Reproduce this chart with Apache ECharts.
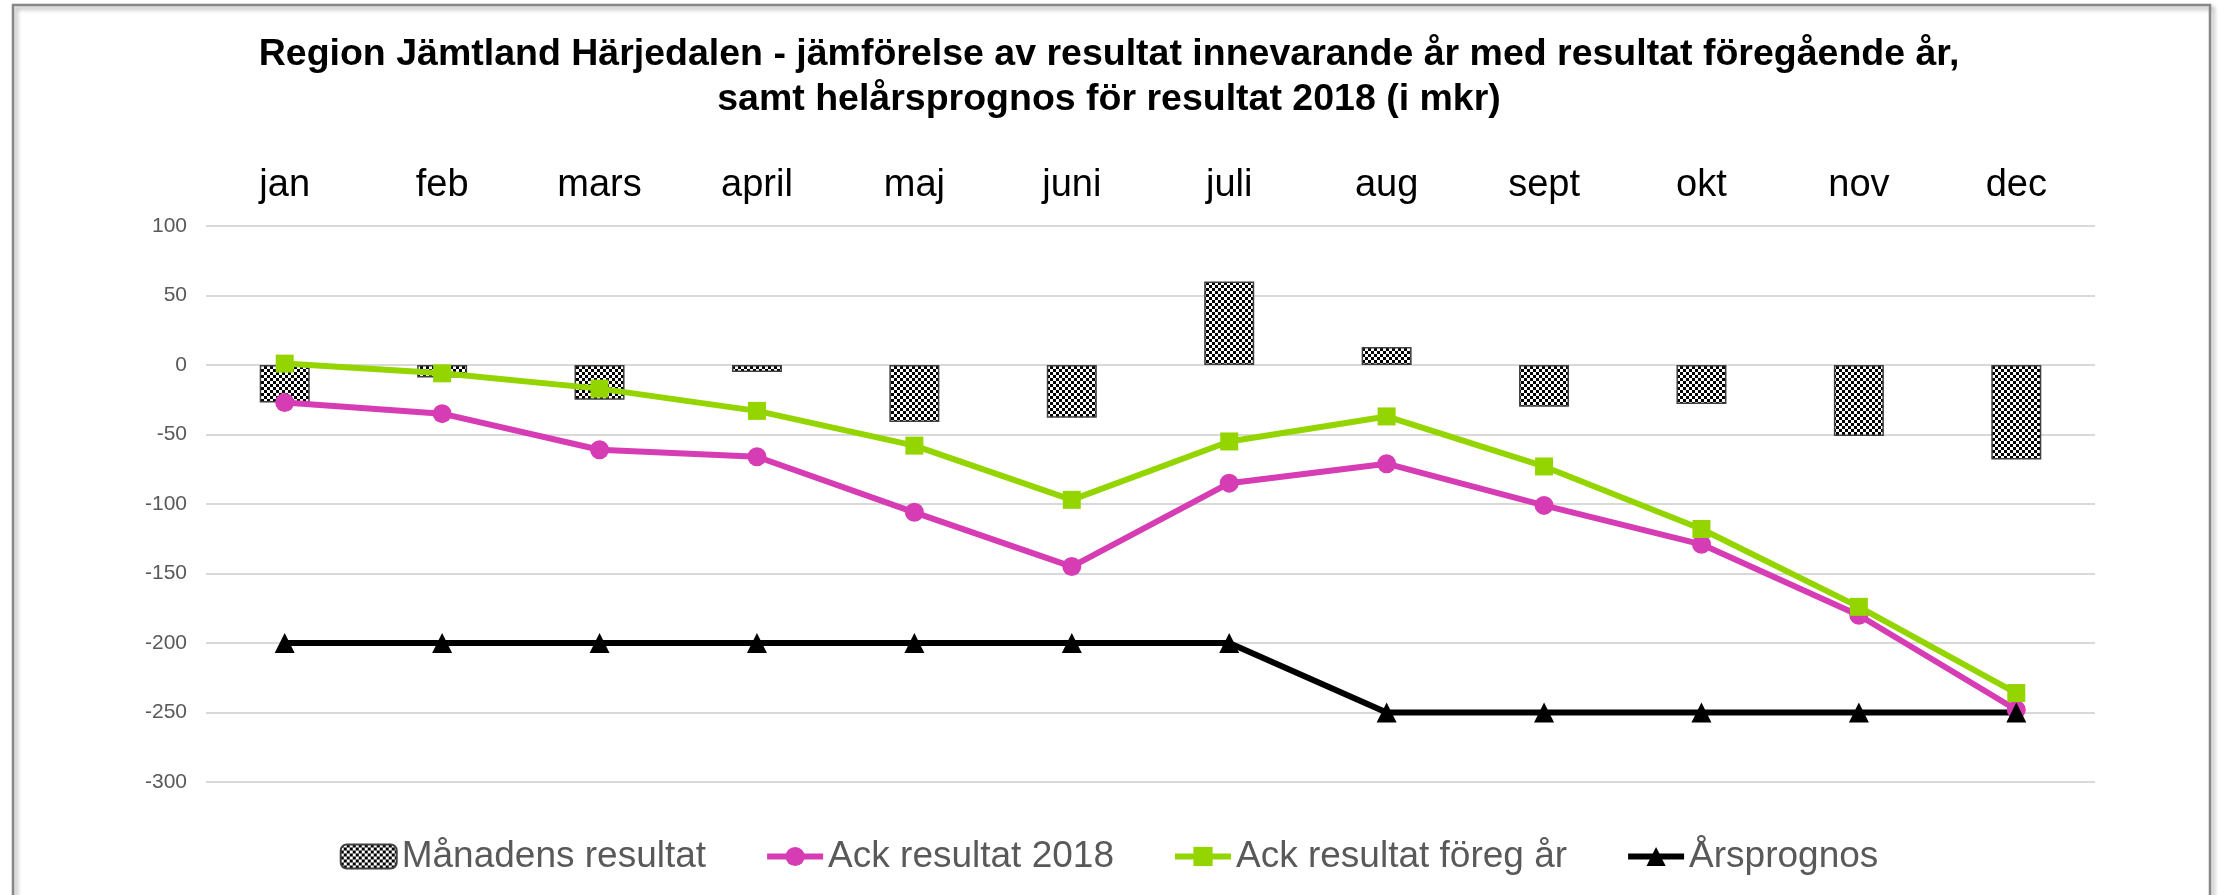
<!DOCTYPE html>
<html>
<head>
<meta charset="utf-8">
<title>Region Jämtland Härjedalen - resultat</title>
<script src="https://cdn.jsdelivr.net/npm/echarts@6/dist/echarts.min.js"></script>
<style>
  html, body { margin: 0; padding: 0; background: #fff; }
  #echart1 { width: 2218px; height: 895px; }
</style>
</head>
<body>
<div id="echart1"></div>
<script>
  'use strict'
  /*-----data-----*/
  var months = ['jan', 'feb', 'mars', 'april', 'maj', 'juni', 'juli', 'aug', 'sept', 'okt', 'nov', 'dec'];
  var manadensResultat = [-27, -9, -25, -5, -41, -38, 60, 13, -30, -28, -51, -68];
  var ackResultat2018 = [-27, -35, -61, -66, -106, -145, -85, -71, -101, -129, -180, -248];
  var ackForegAr = [1, -6, -17, -33, -58, -97, -55, -37, -73, -118, -174, -236];
  var arsprognos = [-200, -200, -200, -200, -200, -200, -200, -250, -250, -250, -250, -250];
  var yMin = -300, yMax = 100, yStep = 50;

  var fontFam = '"Liberation Sans", Arial, sans-serif';

  /*-----checker pattern for the bars-----*/
  var pat = document.createElement('canvas');
  pat.width = 6;
  pat.height = 6;
  var ctx = pat.getContext('2d');
  ctx.fillStyle = '#fff';
  ctx.fillRect(0, 0, 6, 6);
  ctx.fillStyle = '#000';
  ctx.fillRect(0, 0, 3, 3);
  ctx.fillRect(3, 3, 3, 3);

  var chartdata = [
    {
      name: 'Månadens resultat',
      type: 'bar',
      barWidth: 50,
      data: manadensResultat,
      itemStyle: {
        color: { image: pat, repeat: 'repeat' },
        borderColor: '#404040',
        borderWidth: 1.5
      }
    },
    {
      name: 'Ack resultat 2018',
      type: 'line',
      data: ackResultat2018,
      symbol: 'circle',
      symbolSize: 19,
      lineStyle: { width: 6, color: '#d63cb4' },
      itemStyle: { color: '#d63cb4' }
    },
    {
      name: 'Ack resultat föreg år',
      type: 'line',
      data: ackForegAr,
      symbol: 'rect',
      symbolSize: 18,
      lineStyle: { width: 6, color: '#94d500' },
      itemStyle: { color: '#94d500' }
    },
    {
      name: 'Årsprognos',
      type: 'line',
      data: arsprognos,
      symbol: 'triangle',
      symbolSize: 20,
      lineStyle: { width: 6, color: '#000' },
      itemStyle: { color: '#000' }
    }
  ];

  var chart = document.getElementById('echart1');
  var comboChart = echarts.init(chart);
  var option = {
    animation: false,
    textStyle: { fontFamily: fontFam },
    title: {
      text: 'Region Jämtland Härjedalen - jämförelse av resultat innevarande år med resultat föregående år,\nsamt helårsprognos för resultat 2018 (i mkr)',
      left: 'center',
      top: 27,
      textStyle: {
        fontFamily: fontFam,
        fontSize: 37.5,
        fontWeight: 'bold',
        lineHeight: 45,
        color: '#000'
      }
    },
    grid: {
      top: 226,
      right: 123,
      bottom: 113,
      left: 206
    },
    legend: {
      data: ['Månadens resultat', 'Ack resultat 2018', 'Ack resultat föreg år', 'Årsprognos'],
      left: 'center',
      top: 833,
      itemWidth: 56,
      itemHeight: 24,
      itemGap: 58,
      lineStyle: { width: 6 },
      textStyle: { fontFamily: fontFam, fontSize: 37, color: '#595959' }
    },
    xAxis: {
      type: 'category',
      position: 'top',
      data: months,
      axisLine: { show: false },
      axisTick: { show: false },
      axisLabel: {
        fontFamily: fontFam,
        fontSize: 38,
        color: '#000',
        margin: 21
      }
    },
    yAxis: {
      type: 'value',
      min: yMin,
      max: yMax,
      interval: yStep,
      splitLine: {
        lineStyle: { color: '#d9d9d9', width: 2 }
      },
      axisLine: { show: false },
      axisTick: { show: false },
      axisLabel: {
        fontFamily: fontFam,
        fontSize: 21,
        color: '#595959',
        margin: 19
      }
    },
    graphic: [
      {
        type: 'rect',
        silent: true,
        z: -10,
        shape: { x: 13, y: 5, width: 2197, height: 900 },
        style: {
          fill: 'none',
          stroke: '#878787',
          lineWidth: 2.5,
          shadowBlur: 4,
          shadowColor: 'rgba(0,0,0,0.35)',
          shadowOffsetX: 3,
          shadowOffsetY: 3
        }
      }
    ],
    series: chartdata
  };

  comboChart.setOption(option);
</script>
</body>
</html>
